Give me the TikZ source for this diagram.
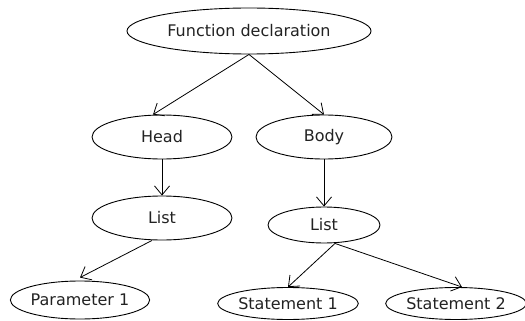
\documentclass[tikz,border=0pt]{standalone}
\usepackage{fontspec}
\setmainfont{DejaVu Sans}
\usetikzlibrary{shapes.geometric,arrows.meta}
\definecolor{txt}{HTML}{222222}
\begin{document}
\begin{tikzpicture}[x=1pt,y=-1pt,
  el/.style={draw, ellipse, inner sep=0pt, line width=0.9pt, text=txt, font=\fontsize{16}{19}\selectfont},
  arr/.style={line width=0.8pt, -{Straight Barb[length=9pt,width=15pt,line width=0.8pt]}}]
\useasboundingbox (0,0) rectangle (525,321);
\node[el, minimum width=244pt, minimum height=46pt] (fd) at (249,31) {Function declaration};
\node[el, minimum width=140pt, minimum height=44pt] (head) at (162,137) {Head};
\node[el, minimum width=136pt, minimum height=44pt] (body) at (324,137) {Body};
\node[el, minimum width=140pt, minimum height=44pt] (hlist) at (162,218) {List};
\node[el, minimum width=112pt, minimum height=36pt] (blist) at (324,225) {List};
\node[el, minimum width=136pt, minimum height=38pt] (p1) at (80,300) {Parameter 1};
\node[el, minimum width=138pt, minimum height=32pt] (s1) at (288,303.5) {Statement 1};
\node[el, minimum width=126pt, minimum height=32pt] (s2) at (456,303.5) {Statement 2};
\draw[arr] (fd.south) -- ([xshift=-9pt]head.north);
\draw[arr] (fd.south) -- (body.north);
\draw[arr] (head.south) -- (hlist.north);
\draw[arr] (body.south) -- (blist.north);
\draw[arr] ([xshift=-10pt]hlist.south) -- ([yshift=3pt]p1.north);
\draw[arr] ([xshift=11pt]blist.south) -- (s1.north);
\draw[arr] ([xshift=11pt]blist.south) -- ([xshift=6pt]s2.north);
\end{tikzpicture}
\end{document}
